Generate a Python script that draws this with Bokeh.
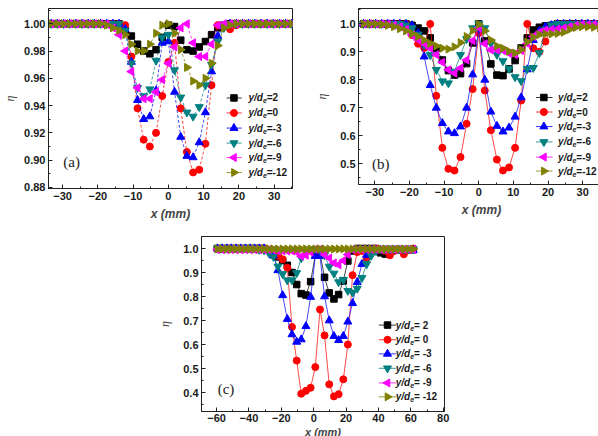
import math

from bokeh.core.properties import value
from bokeh.embed import file_html
from bokeh.layouts import column, row
from bokeh.models import FixedTicker, NumeralTickFormatter, Range1d, Spacer
from bokeh.plotting import figure
from bokeh.resources import INLINE

# ---------------------------------------------------------------- data
# lateral position (mm) for panels (a) and (b)
X_AB = [-33.25, -31.5, -29.75, -28.0, -26.25, -24.5, -22.75, -21.0, -19.25, -17.5,
        -15.75, -14.0, -12.25, -10.5, -8.75, -7.0, -5.25, -3.5, -1.75, 0.0,
        1.75, 3.5, 5.25, 7.0, 8.75, 10.5, 12.25, 14.0, 15.75, 17.5,
        19.25, 21.0, 22.75, 24.5, 26.25, 28.0, 29.75, 31.5, 33.25, 35.0]

# lateral position (mm) for panel (c)
X_C = [-59.5, -56.6, -53.7, -50.9, -48.0, -45.1, -42.2, -39.3, -36.5, -33.6,
       -30.7, -27.8, -24.9, -22.1, -19.2, -16.3, -13.4, -10.5, -7.7, -4.8,
       -1.9, 1.0, 3.9, 6.7, 9.6, 12.5, 15.4, 18.3, 21.1, 24.0,
       26.9, 29.8, 32.7, 35.5, 38.4, 41.3, 44.2, 47.1, 49.9, 52.8,
       55.7, 58.6, 61.5]

# y/de values of the six traverses
Y_DE = ["2", "0", "-3", "-6", "-9", "-12"]

# panel (a)
A_2 = [1.000, 1.000, 1.000, 1.000, 1.000, 1.000, 1.000, 1.000, 1.000, 1.000,
       1.000, 1.000, 0.995, 0.991, 0.985, 0.980, 0.978, 0.981, 0.990, 0.999,
       0.998, 0.988, 0.981, 0.980, 0.983, 0.987, 0.992, 0.997, 0.999, 1.000,
       1.000, 1.000, 1.000, 1.000, 1.000, 1.000, 1.000, 1.000, 1.000, 1.000]
A_0 = [1.000, 1.000, 1.000, 1.000, 1.000, 1.000, 1.000, 1.000, 1.000, 1.000,
       1.000, 1.000, 0.999, 0.976, 0.938, 0.915, 0.910, 0.920, 0.947, 0.972,
       0.986, 0.938, 0.906, 0.891, 0.893, 0.912, 0.955, 0.999, 0.998, 0.996,
       0.999, 1.000, 1.000, 1.000, 1.000, 1.000, 1.000, 1.000, 1.000, 1.000]
A_M3 = [1.000, 1.000, 1.000, 1.000, 1.000, 1.000, 1.000, 1.000, 1.000, 1.000,
        1.000, 1.000, 0.996, 0.972, 0.944, 0.930, 0.932, 0.951, 0.986, 0.987,
        0.950, 0.917, 0.903, 0.902, 0.913, 0.935, 0.965, 0.991, 0.998, 1.000,
        1.000, 1.000, 1.000, 1.000, 1.000, 1.000, 1.000, 1.000, 1.000, 1.000]
A_M6 = [1.000, 1.000, 1.000, 1.000, 1.000, 1.000, 1.000, 1.000, 1.000, 1.000,
        1.000, 1.000, 0.995, 0.971, 0.953, 0.947, 0.952, 0.973, 0.990, 0.992,
        0.966, 0.946, 0.935, 0.932, 0.939, 0.955, 0.970, 0.987, 0.997, 1.000,
        1.000, 1.000, 1.000, 1.000, 1.000, 1.000, 1.000, 1.000, 1.000, 1.000]
A_M9 = [1.000, 1.000, 1.000, 1.000, 1.000, 1.000, 1.000, 1.000, 1.000, 1.000,
        0.997, 0.992, 0.980, 0.965, 0.953, 0.945, 0.945, 0.950, 0.959, 0.971,
        0.983, 0.997, 1.000, 0.986, 0.976, 0.976, 0.985, 0.999, 1.000, 1.000,
        1.000, 1.000, 1.000, 1.000, 1.000, 1.000, 1.000, 1.000, 1.000, 1.000]
A_M12 = [1.000, 1.000, 1.000, 1.000, 1.000, 1.000, 1.000, 1.000, 1.000, 0.999,
         0.997, 0.995, 0.992, 0.985, 0.980, 0.980, 0.985, 0.993, 0.999, 1.000,
         0.993, 0.981, 0.968, 0.958, 0.955, 0.960, 0.971, 0.984, 0.997, 0.999,
         1.000, 1.000, 1.000, 1.000, 1.000, 1.000, 1.000, 1.000, 1.000, 1.000]

# panel (b)
B_2 = [1.000, 1.000, 1.000, 1.000, 1.000, 1.000, 1.000, 1.000, 0.995, 0.985,
       0.975, 0.950, 0.912, 0.871, 0.833, 0.817, 0.822, 0.858, 0.932, 1.000,
       0.939, 0.857, 0.817, 0.815, 0.839, 0.869, 0.914, 0.950, 0.978, 0.988,
       0.993, 0.995, 1.000, 1.000, 1.000, 1.000, 1.000, 1.000, 1.000, 1.000]
B_0 = [1.000, 1.000, 1.000, 1.000, 1.000, 1.000, 1.000, 1.000, 0.960, 0.929,
       0.914, 1.000, 0.743, 0.557, 0.482, 0.476, 0.524, 0.643, 0.767, 0.967,
       0.762, 0.620, 0.515, 0.476, 0.487, 0.557, 0.726, 1.000, 0.913, 0.900,
       0.937, 0.985, 1.000, 1.000, 1.000, 1.000, 1.000, 1.000, 1.000, 1.000]
B_M3 = [1.000, 1.000, 1.000, 1.000, 1.000, 1.000, 1.000, 1.000, 0.995, 0.967,
        0.883, 0.781, 0.700, 0.645, 0.615, 0.609, 0.633, 0.700, 0.819, 0.980,
        0.800, 0.686, 0.635, 0.615, 0.629, 0.668, 0.737, 0.837, 0.942, 0.975,
        0.990, 0.995, 1.000, 1.000, 1.000, 1.000, 1.000, 1.000, 1.000, 1.000]
B_M6 = [1.000, 1.000, 1.000, 1.000, 1.000, 1.000, 1.000, 0.995, 0.985, 0.962,
        0.925, 0.889, 0.836, 0.795, 0.788, 0.830, 0.889, 0.946, 0.985, 1.000,
        0.985, 0.930, 0.890, 0.867, 0.839, 0.810, 0.796, 0.839, 0.843, 0.896,
        0.980, 0.995, 1.000, 1.000, 1.000, 1.000, 1.000, 1.000, 1.000, 1.000]
B_M9 = [1.000, 1.000, 1.000, 1.000, 1.000, 0.995, 0.990, 0.980, 0.960, 0.943,
        0.929, 0.913, 0.890, 0.863, 0.836, 0.824, 0.842, 0.871, 0.940, 0.986,
        0.929, 0.907, 0.907, 0.905, 0.895, 0.890, 0.905, 0.930, 0.955, 0.970,
        0.978, 0.980, 0.982, 0.985, 0.990, 0.995, 0.998, 0.998, 0.998, 0.998]
B_M12 = [1.000, 1.000, 1.000, 0.998, 0.995, 0.990, 0.983, 0.975, 0.965, 0.955,
         0.942, 0.930, 0.921, 0.913, 0.910, 0.918, 0.933, 0.955, 0.976, 0.998,
         0.975, 0.942, 0.921, 0.913, 0.902, 0.896, 0.908, 0.935, 0.952, 0.962,
         0.964, 0.964, 0.966, 0.970, 0.980, 0.987, 0.990, 0.990, 0.988, 0.985]

# panel (c)
C_2 = [1.000, 1.000, 1.000, 1.000, 1.000, 1.000, 1.000, 1.000, 1.000, 1.000,
       1.000, 0.995, 0.985, 0.965, 0.950, 0.930, 0.900, 0.850, 0.812, 0.806,
       0.862, 0.972, 0.980, 0.880, 0.815, 0.790, 0.808, 0.865, 0.948, 0.990,
       1.000, 1.000, 1.000, 1.000, 1.000, 0.982, 0.977, 0.990, 0.995, 0.995,
       0.995, 0.995, 0.995]
C_0 = [1.000, 1.000, 1.000, 1.000, 1.000, 1.000, 1.000, 1.000, 1.000, 1.000,
       1.000, 0.995, 0.985, 0.970, 0.955, 0.920, 0.673, 0.533, 0.395, 0.407,
       0.420, 0.506, 0.746, 0.638, 0.434, 0.384, 0.393, 0.455, 0.600, 0.889,
       0.985, 0.990, 0.960, 0.990, 1.000, 0.995, 0.990, 0.972, 0.990, 0.995,
       0.976, 0.995, 1.000]
C_M3 = [1.000, 1.000, 1.000, 1.000, 1.000, 1.000, 1.000, 1.000, 1.000, 1.000,
        1.000, 0.990, 0.970, 0.909, 0.805, 0.706, 0.642, 0.611, 0.621, 0.676,
        0.798, 0.968, 0.968, 0.800, 0.700, 0.635, 0.618, 0.635, 0.695, 0.772,
        0.860, 0.935, 0.973, 0.990, 0.993, 0.993, 0.993, 0.993, 0.993, 0.993,
        0.993, 0.993, 0.993]
C_M6 = [1.000, 1.000, 1.000, 1.000, 1.000, 1.000, 1.000, 1.000, 1.000, 0.995,
        0.993, 0.982, 0.966, 0.925, 0.894, 0.868, 0.868, 0.898, 0.960, 0.986,
        0.996, 0.998, 0.993, 0.972, 0.925, 0.896, 0.860, 0.870, 0.824, 0.817,
        0.833, 0.878, 0.935, 0.970, 0.990, 0.997, 0.997, 0.997, 0.997, 0.997,
        0.997, 0.997, 0.997]
C_M9 = [0.995, 0.995, 0.995, 0.995, 0.995, 0.995, 0.995, 0.995, 0.995, 0.995,
        0.995, 0.995, 0.993, 0.990, 0.990, 0.990, 0.990, 0.985, 0.968, 0.972,
        0.985, 0.997, 0.997, 0.975, 0.960, 0.940, 0.932, 0.950, 0.975, 0.995,
        0.996, 0.996, 0.996, 0.996, 0.996, 0.996, 0.996, 0.996, 0.996, 0.996,
        0.996, 0.996, 0.996]
C_M12 = [0.998, 0.998, 0.998, 0.998, 0.998, 0.998, 0.998, 0.998, 0.998, 0.998,
         0.998, 0.998, 0.998, 0.998, 0.998, 0.998, 0.998, 0.998, 0.998, 0.998,
         0.998, 0.998, 0.998, 0.998, 0.998, 0.998, 0.998, 0.998, 0.998, 0.998,
         0.998, 0.998, 0.998, 0.998, 0.998, 0.998, 0.998, 0.998, 0.998, 0.998,
         0.998, 0.998, 0.998]

# ---------------------------------------------------------------- styling
SANS = "Liberation Sans"
SERIF = "Liberation Serif"

MARKERS = [
    dict(marker="square", angle=0.0, color="#000000", size=6.5),
    dict(marker="circle", angle=0.0, color="#ff0000", size=7),
    dict(marker="triangle", angle=0.0, color="#0000ff", size=8),
    dict(marker="inverted_triangle", angle=0.0, color="#008080", size=8),
    dict(marker="triangle", angle=math.pi / 2, color="#ff00ff", size=8),
    dict(marker="triangle", angle=-math.pi / 2, color="#808000", size=8),
]


def style_axis(ax, ticks, minor, fmt=None, standoff=3):
    ax.ticker = FixedTicker(ticks=ticks, minor_ticks=minor)
    if fmt:
        ax.formatter = NumeralTickFormatter(format=fmt)
    ax.major_tick_in = 4
    ax.major_tick_out = 0
    ax.minor_tick_in = 2
    ax.minor_tick_out = 0
    ax.axis_line_color = "#222222"
    ax.major_tick_line_color = "#222222"
    ax.minor_tick_line_color = "#222222"
    ax.major_label_text_font = SANS
    ax.major_label_text_font_style = "bold"
    ax.major_label_text_font_size = "11px"
    ax.major_label_text_color = "#1a1a1a"
    ax.major_label_standoff = standoff


def panel(xs, ys_list, cfg):
    p = figure(frame_width=cfg["fw"], frame_height=cfg["fh"],
               x_range=Range1d(*cfg["xr"]), y_range=Range1d(*cfg["yr"]),
               output_backend="svg", toolbar_location=None,
               min_border_left=cfg["bl"], min_border_right=cfg["br"],
               min_border_top=cfg["bt"], min_border_bottom=cfg["bb"],
               background_fill_color="white", border_fill_color="white")
    p.xgrid.visible = False
    p.ygrid.visible = False
    p.outline_line_color = "#222222"
    p.outline_line_width = 1

    style_axis(p.xaxis[0], cfg["xt"], cfg["xm"], standoff=cfg["xtick_gap"])
    style_axis(p.yaxis[0], cfg["yt"], cfg["ym"], cfg["yfmt"])

    p.yaxis.axis_label = "η"
    p.yaxis.axis_label_text_font = SERIF
    p.yaxis.axis_label_text_font_style = "italic"
    p.yaxis.axis_label_text_font_size = "12px"
    p.yaxis.axis_label_standoff = cfg["ylab_gap"]

    p.xaxis.axis_label = "x (mm)"
    p.xaxis.axis_label_text_font = SANS
    p.xaxis.axis_label_text_font_style = "bold italic"
    p.xaxis.axis_label_text_font_size = cfg["xlab_size"]
    p.xaxis.axis_label_standoff = cfg["xlab_gap"]

    # data traverses
    for ys, st in zip(ys_list, MARKERS):
        p.line(xs, ys, line_color=st["color"], line_width=0.8,
               line_dash=cfg["dash"], line_alpha=0.9)
        p.scatter(xs, ys, marker=st["marker"], angle=st["angle"],
                  size=st["size"], fill_color=st["color"], line_color=st["color"])

    # legend drawn inside the frame
    lg = cfg["legend"]
    for lab, st, ly in zip(Y_DE, MARKERS, lg["ys"]):
        p.line([lg["x0"], lg["x1"]], [ly, ly], line_color=st["color"], line_width=0.8)
        p.scatter([lg["xm"]], [ly], marker=st["marker"], angle=st["angle"],
                  size=st["size"], fill_color=st["color"], line_color=st["color"])
        common = dict(text_font=value(SANS), text_baseline="middle",
                      text_align="left", text_color="#1a1a1a")
        p.text([lg["xt"]], [ly], text=["y/d"], text_font_style="bold italic",
               text_font_size="10px", **common)
        p.text([lg["xt"]], [ly], text=["e"], text_font_style="bold italic",
               text_font_size="7px", x_offset=14.5, y_offset=3, **common)
        p.text([lg["xt"]], [ly], text=["=" + lg["sep"] + lab], text_font_style="bold",
               text_font_size="10px", x_offset=18.3, **common)

    # panel tag
    p.text([cfg["tag_xy"][0]], [cfg["tag_xy"][1]], text=[cfg["tag"]],
           text_font=value(SERIF), text_font_size="15px",
           text_baseline="middle", text_align="left", text_color="#1a1a1a")
    return p


cfg_a = dict(fw=244, fh=180, bl=39, br=17, bt=8, bb=30,
             xr=(-34.0, 35.2), yr=(0.8792, 1.0112),
             xt=[-30, -20, -10, 0, 10, 20, 30], xm=[-35, -25, -15, -5, 5, 15, 25, 35],
             yt=[0.88, 0.90, 0.92, 0.94, 0.96, 0.98, 1.00],
             ym=[0.89, 0.91, 0.93, 0.95, 0.97, 0.99, 1.01], yfmt="0.00",
             ylab_gap=4, xtick_gap=3, xlab_gap=4, xlab_size="12px", dash="3 2",
             legend=dict(x0=16.5, x1=20.8, xm=18.6, xt=22.7, sep="",
                         ys=[0.9456, 0.9346, 0.9235, 0.9125, 0.9019, 0.8909]),
             tag="(a)", tag_xy=(-29.8, 0.899))

cfg_b = dict(fw=246, fh=176, bl=49, br=3, bt=8, bb=34,
             xr=(-34.7, 36.3), yr=(0.426, 1.055),
             xt=[-30, -20, -10, 0, 10, 20, 30], xm=[-35, -25, -15, -5, 5, 15, 25, 35],
             yt=[0.5, 0.6, 0.7, 0.8, 0.9, 1.0],
             ym=[0.45, 0.55, 0.65, 0.75, 0.85, 0.95, 1.05], yfmt="0.0",
             ylab_gap=8, xtick_gap=3, xlab_gap=4, xlab_size="12px", dash="solid",
             legend=dict(x0=16.5, x1=21.3, xm=18.8, xt=22.9, sep="",
                         ys=[0.737, 0.685, 0.633, 0.578, 0.524, 0.474]),
             tag="(b)", tag_xy=(-30.8, 0.501))

cfg_c = dict(fw=243, fh=175, bl=51, br=6, bt=13, bb=30,
             xr=(-69.3, 80.8), yr=(0.321, 1.05),
             xt=[-60, -40, -20, 0, 20, 40, 60, 80], xm=[-70, -50, -30, -10, 10, 30, 50, 70],
             yt=[0.4, 0.5, 0.6, 0.7, 0.8, 0.9, 1.0],
             ym=[0.35, 0.45, 0.55, 0.65, 0.75, 0.85, 0.95, 1.05], yfmt="0.0",
             ylab_gap=8, xtick_gap=2, xlab_gap=1, xlab_size="11px", dash="solid",
             legend=dict(x0=40.2, x1=50.9, xm=45.6, xt=50.7, sep=" ",
                         ys=[0.681, 0.620, 0.561, 0.501, 0.440, 0.382]),
             tag="(c)", tag_xy=(-59.3, 0.414))

pa = panel(X_AB, [A_2, A_0, A_M3, A_M6, A_M9, A_M12], cfg_a)
pb = panel(X_AB, [B_2, B_0, B_M3, B_M6, B_M9, B_M12], cfg_b)
pc = panel(X_C, [C_2, C_0, C_M3, C_M6, C_M9, C_M12], cfg_c)

layout = column(row(pa, pb), row(Spacer(width=150, height=218), pc))

with open("out.html", "w") as f:
    f.write(file_html(layout, INLINE))
